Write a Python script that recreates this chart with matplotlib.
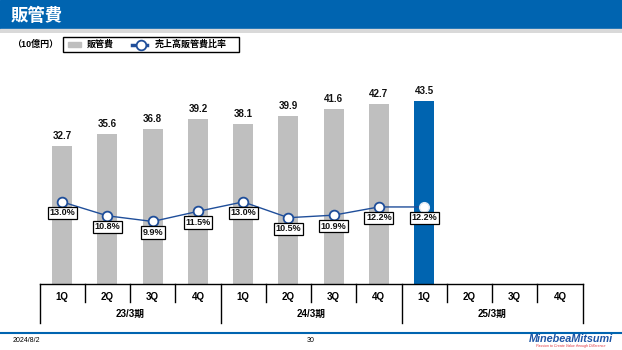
import matplotlib.pyplot as plt
from matplotlib.patches import Rectangle
from matplotlib.lines import Line2D

plt.rcParams['font.family'] = ['Liberation Sans', 'Noto Sans CJK JP', 'DejaVu Sans']

# SG&A (billion yen) and SG&A-to-sales ratio by quarter
quarters = ['1Q', '2Q', '3Q', '4Q'] * 3
years = ['23/3期', '24/3期', '25/3期']
sga = [32.7, 35.6, 36.8, 39.2, 38.1, 39.9, 41.6, 42.7, 43.5]
ratio = [13.0, 10.8, 9.9, 11.5, 13.0, 10.5, 10.9, 12.2, 12.2]

BLUE = '#0064b0'
GREY = '#bfbfbf'
NAVY = '#1f4e9a'

W, H = 622, 350
fig = plt.figure(figsize=(W / 100, H / 100), dpi=100)


def px_axes(x0, y0, x1, y1, **kw):
    # axes placed by pixel box measured from the top-left corner
    return fig.add_axes([x0 / W, 1 - y1 / H, (x1 - x0) / W, (y1 - y0) / H], **kw)


# header band
hdr = px_axes(0, 0, W, 33)
hdr.set_xlim(0, W)
hdr.set_ylim(33, 0)
hdr.axis('off')
hdr.add_patch(Rectangle((0, 0), W, 29, color=BLUE))
hdr.add_patch(Rectangle((0, 29), W, 4, color='#d9d9d9'))
hdr.text(11, 15, '販管費', color='white', fontsize=12.5, fontweight='bold',
         va='center', ha='left')

# main chart
left, right, base, top = 39.5, 582.5, 284, 60
ax = px_axes(left, top, right, base)
x = list(range(len(sga)))
colors = [GREY] * (len(sga) - 1) + [BLUE]
ax.bar(x, sga, width=0.44, color=colors, zorder=1)
for xi, v in zip(x, sga):
    ax.text(xi, v + 1.2, f'{v:.1f}', ha='center', va='bottom', fontsize=7,
            fontweight='bold', color='#111111')
ax.set_xlim(-0.5, 11.5)
ymax = (base - top) / 4.21
ax.set_ylim(0, ymax)
ax.axis('off')

ax2 = ax.twinx()
ax2.set_ylim(0, ymax / 1.5)
ax2.axis('off')
ax2.plot(x, ratio, color=NAVY, lw=1, zorder=3)
ax2.plot(x[:-1], ratio[:-1], 'o', ms=7, mfc='white', mec=NAVY, mew=1.3, zorder=4)
ax2.plot(x[-1:], ratio[-1:], 'o', ms=7, mfc='white', mec='#dfe8f3', mew=1, zorder=4)
for xi, r in zip(x, ratio):
    ax2.annotate(f'{r:.1f}%', (xi, r), xytext=(0, -11), textcoords='offset pixels',
                 ha='center', va='center', fontsize=6.5, fontweight='bold',
                 color='#111111', zorder=5,
                 bbox=dict(boxstyle='square,pad=0.18', fc='white', ec='black', lw=0.9))

# category table under the bars
tb = px_axes(left, base, right, 324)
tb.set_xlim(-0.5, 11.5)
tb.set_ylim(324, base)
tb.axis('off')
tb.plot([-0.5, 11.5], [base, base], color='black', lw=1, clip_on=False)
for i in range(13):
    xs = i - 0.5
    y_end = 323 if i % 4 == 0 else 302
    tb.plot([xs, xs], [base, y_end], color='black', lw=1, clip_on=False)
for i, q in enumerate(quarters):
    tb.text(i, 296.5, q, ha='center', va='center', fontsize=7, fontweight='bold')
for j, yr in enumerate(years):
    tb.text(4 * j + 1.5, 314, yr, ha='center', va='center', fontsize=7,
            fontweight='bold')

# legend row
lg = px_axes(0, 33, W, 60)
lg.set_xlim(0, W)
lg.set_ylim(60, 33)
lg.axis('off')
lg.text(12, 44.5, '（10億円）', ha='left', va='center', fontsize=6.5, fontweight='bold')
lg.add_patch(Rectangle((63, 37), 176, 15, fc='none', ec='black', lw=1))
lg.add_patch(Rectangle((68, 42), 13, 5, color=GREY))
lg.text(87, 44.5, '販管費', ha='left', va='center', fontsize=6.5, fontweight='bold')
lg.add_line(Line2D([132, 147], [44.5, 44.5], color=NAVY, lw=2.5))
lg.plot([141], [44.5], 'o', ms=7, mfc='white', mec=NAVY, mew=1.3)
lg.text(155, 44.5, '売上高販管費比率', ha='left', va='center', fontsize=6.5,
        fontweight='bold')

# footer
ft = px_axes(0, 328, W, H)
ft.set_xlim(0, W)
ft.set_ylim(H, 328)
ft.axis('off')
ft.plot([0, W], [332.5, 332.5], color=BLUE, lw=1.5)
ft.text(13, 341, '2024/8/2', ha='left', va='center', fontsize=5)
ft.text(311, 341, '30', ha='center', va='center', fontsize=5)
ft.text(571, 338.5, 'MinebeaMitsumi', ha='center', va='center', fontsize=7.8,
        fontweight='bold', style='italic', color='#1d55a5')
ft.text(571, 345.5, 'Passion to Create Value through Difference', ha='center',
        va='center', fontsize=2.6, style='italic', color='#e0303a')

fig.savefig('out.png', dpi=100)
